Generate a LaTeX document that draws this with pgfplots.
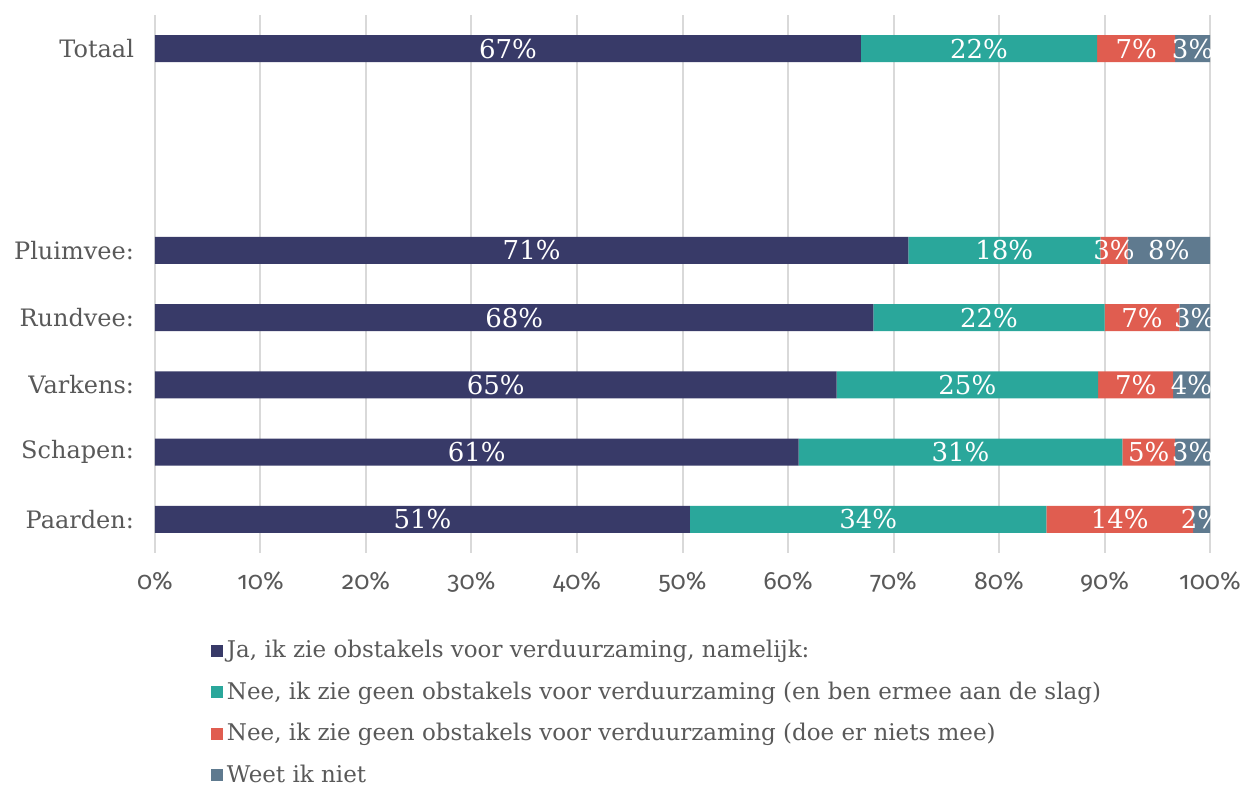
\documentclass[border=0pt]{standalone}
\usepackage{pgfplots}
\usepackage{pgfplotstable}
\pgfplotsset{compat=1.18}
\usepackage{fontspec}
\setmainfont{DejaVu Serif}
\newfontfamily\tickfont[Numbers=OldStyle]{Fira Sans}

\definecolor{cJa}{RGB}{56,58,104}
\definecolor{cSlag}{RGB}{42,167,155}
\definecolor{cNiets}{RGB}{224,93,80}
\definecolor{cWeet}{RGB}{95,122,143}
\definecolor{labelgray}{RGB}{89,89,89}
\definecolor{gridgray}{RGB}{217,217,217}

% y: Paarden 0 ... Pluimvee 4, Totaal 7
\pgfplotstableread{
y ja slag niets weet
0 50.7 33.8 13.9 1.6
1 61.0 30.7 5.0 3.3
2 64.6 24.8 7.1 3.5
3 68.1 21.9 7.1 2.9
4 71.4 18.2 2.6 7.8
7 66.9 22.4 7.4 3.3
}\data

\begin{document}
\begin{tikzpicture}
\begin{axis}[
  name=ax, scale only axis,
  width=527.5pt, height=269pt,
  xbar stacked, bar width=13.5pt,
  xmin=0, xmax=100, ymin=-0.5, ymax=7.5,
  ytick={0,1,2,3,4,7},
  yticklabels={Paarden:,Schapen:,Varkens:,Rundvee:,Pluimvee:,Totaal},
  xtick={0,10,...,100},
  xticklabels={0\%,10\%,20\%,30\%,40\%,50\%,60\%,70\%,80\%,90\%,100\%},
  axis line style={draw=none}, major tick length=0pt,
  xmajorgrids, grid style={draw=gridgray, line width=1pt},
  xticklabel style={font=\tickfont\fontsize{12.5}{14}\selectfont, text=labelgray, yshift=-6pt},
  yticklabel style={font=\fontsize{12}{14}\selectfont, text=labelgray, xshift=-7pt},
  /pgf/number format/assume math mode=true,
  nodes near coords={\pgfmathprintnumber[fixed,precision=0]{\pgfplotspointmeta}\%},
  every node near coord/.append style={anchor=center, text=white,
    font=\fontsize{13}{15}\selectfont},
  every axis plot post/.append style={draw=none,
    legend image code/.code={\fill[##1] (0pt,-3pt) rectangle (6pt,3pt);}},
  legend cell align=left,
  legend style={at={(rel axis cs:0.047,0)}, anchor=north west, yshift=-39.5pt,
    draw=none, fill=none, text=labelgray,
    font=\fontsize{11.5}{14}\selectfont, row sep=6.5pt},
]
\addplot[fill=cJa] table[x=ja, y=y] \data;
\addplot[fill=cSlag] table[x=slag, y=y] \data;
\addplot[fill=cNiets] table[x=niets, y=y] \data;
\addplot[fill=cWeet] table[x=weet, y=y] \data;
\legend{{Ja, ik zie obstakels voor verduurzaming, namelijk:},
  {Nee, ik zie geen obstakels voor verduurzaming (en ben ermee aan de slag)},
  {Nee, ik zie geen obstakels voor verduurzaming (doe er niets mee)},
  {Weet ik niet}}
\end{axis}
\pgfresetboundingbox
\path ([xshift=-77.5pt,yshift=-116pt]ax.south west) rectangle ([xshift=17pt,yshift=7.5pt]ax.north east);
\end{tikzpicture}
\end{document}
